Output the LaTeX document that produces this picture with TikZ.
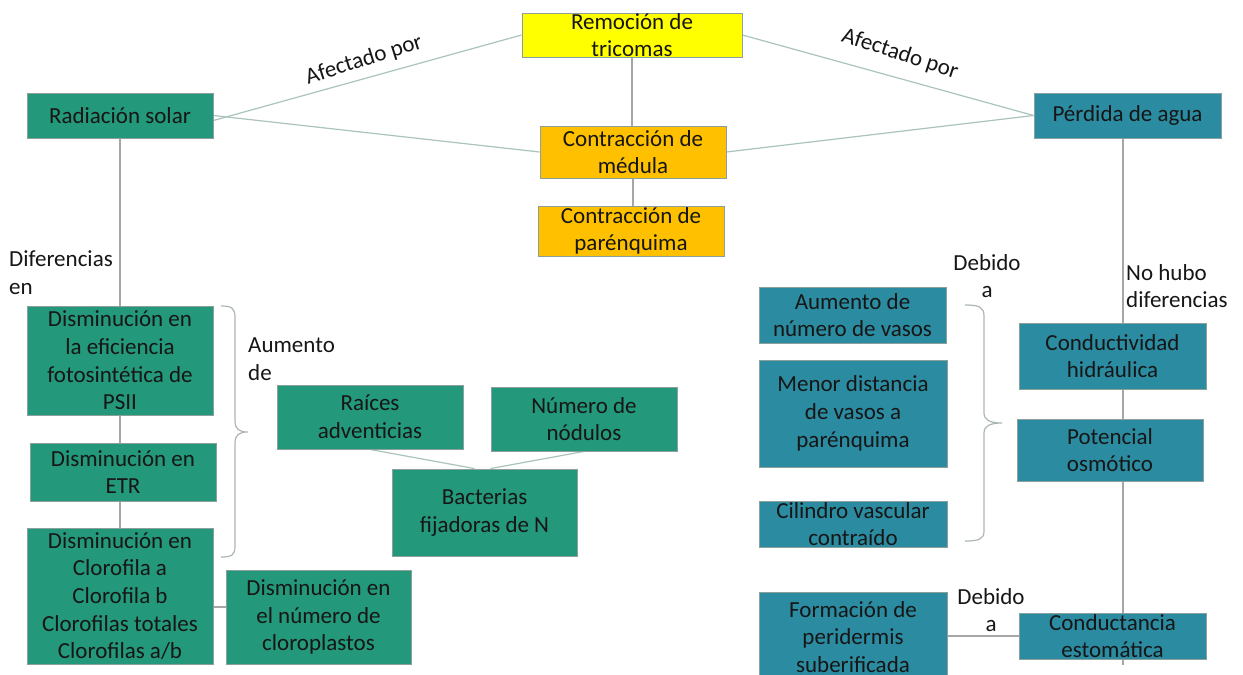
\documentclass[tikz,border=0pt]{standalone}
\usepackage{fontspec}
\setmainfont{Carlito}
\usetikzlibrary{backgrounds}
\definecolor{gfill}{RGB}{35,152,122}
\definecolor{tfill}{RGB}{43,139,161}
\definecolor{bord}{RGB}{140,160,155}
\definecolor{yfill}{RGB}{255,255,0}
\definecolor{ofill}{RGB}{255,192,0}
\definecolor{lnk}{RGB}{170,196,188}
\definecolor{vln}{RGB}{166,166,166}
\definecolor{brc}{RGB}{172,182,178}
\definecolor{txt}{RGB}{22,22,22}
\tikzset{
  box/.style={draw=bord, line width=0.9pt, inner sep=0pt, rectangle},
  gbox/.style={box, fill=gfill},
  tbox/.style={box, fill=tfill},
  ybox/.style={box, fill=yfill},
  obox/.style={box, fill=ofill},
  lab/.style={font=\fontsize{23}{27.7}\selectfont, align=center, text=txt, inner sep=0pt},
  plain/.style={font=\fontsize{23}{27.7}\selectfont, text=txt, inner sep=0pt},
  link/.style={draw=lnk, line width=1.2pt},
  vlink/.style={draw=vln, line width=1.2pt},
  bracepath/.style={draw=brc, line width=1.2pt}
}
\newcommand\bx[7]{\node[#1, minimum width={(#5)-(#3)}, minimum height={(#6)-(#4)}, label={[lab]center:{#7}}] (#2) at ({((#3)+(#5))/2},{((#4)+(#6))/2}) {};}
\begin{document}
\begin{tikzpicture}[x=1pt,y=-1pt]
\clip (0,0) rectangle (1243,675);
% boxes
\bx{ybox}{rem}{522}{13}{742}{57}{Remoción de\\tricomas}
\bx{gbox}{rad}{27}{93}{213}{138}{Radiación solar}
\bx{obox}{med}{540}{126}{726}{178}{Contracción de\\médula}
\bx{obox}{par}{538}{206}{724}{256}{Contracción de\\parénquima}
\bx{tbox}{per}{1034}{93}{1221}{138}{Pérdida de agua}
\bx{gbox}{psii}{27}{306}{213}{415}{Disminución en\\la eficiencia\\fotosintética de\\PSII}
\bx{gbox}{etr}{30}{443}{216}{501}{Disminución en\\ETR}
\bx{gbox}{clo}{27}{528}{213}{664}{Disminución en\\Clorofila a\\Clorofila b\\Clorofilas totales\\Clorofilas a/b}
\bx{gbox}{clp}{226}{570}{411}{664}{Disminución en\\el número de\\cloroplastos}
\bx{gbox}{rai}{277}{385}{463}{449}{Raíces\\adventicias}
\bx{gbox}{nod}{491}{387}{677}{451}{Número de\\nódulos}
\bx{gbox}{bac}{392}{469}{577}{556}{Bacterias\\fijadoras de N}
\bx{tbox}{vas}{759}{287}{946}{343}{Aumento de\\número de vasos}
\bx{tbox}{dis}{759}{360}{947}{467}{Menor distancia\\de vasos a\\parénquima}
\bx{tbox}{cil}{759}{501}{947}{547}{Cilindro vascular\\contraído}
\bx{tbox}{frm}{759}{592}{947}{682}{Formación de\\peridermis\\suberificada}
\bx{tbox}{cnd}{1019}{323}{1206}{389}{Conductividad\\hidráulica}
\bx{tbox}{pot}{1017}{419}{1203}{481}{Potencial\\osmótico}
\bx{tbox}{cst}{1019}{613}{1206}{659}{Conductancia\\estomática}
% free labels
\node[plain, rotate=17.5] (af1) at (364,60) {Afectado por};
\node[plain, rotate=-18] (af2) at (900,54) {Afectado por};
\node[plain, align=left, anchor=west] (dif) at (9,273) {Diferencias\\en};
\node[plain, align=left, anchor=west] (aum) at (248,359) {Aumento\\de};
\node[plain, align=center] (deb1) at (987,276) {Debido\\a};
\node[plain, align=left, anchor=west] (noh) at (1126,286) {No hubo\\diferencias};
\node[plain, align=center] (deb2) at (991,610) {Debido\\a};
\coordinate (vend) at (1123,665);
% connectors behind boxes
\begin{scope}[on background layer]
\fill[white] (0,0) rectangle (1243,675);
\draw[link] ([yshift=-5pt]rad.east) -- (rem.west);
\draw[link] (rad.east) -- (med.west);
\draw[link] (rem.east) -- (per.west);
\draw[link] (med.east) -- (per.west);
\draw[vlink] (rem.south) -- (rem.south |- med.north);
\draw[vlink] (med.south) -- (med.south |- par.north);
\draw[vlink] (rad.south) -- (psii.north);
\draw[vlink] (psii.south) -- (psii.south |- etr.north);
\draw[vlink] (psii.south |- etr.south) -- (psii.south |- clo.north);
\draw[vlink] ([yshift=-11pt]clo.east) -- ([yshift=-11pt]clo.east -| clp.west);
\draw[link] (rai.south) -- ([xshift=-10pt]bac.north);
\draw[link] (nod.south) -- ([xshift=6pt]bac.north);
\draw[vlink] ([xshift=-4.5pt]per.south) -- (vend);
\draw[vlink] (frm.east |- cst.west) -- (cst.west);
\end{scope}
% braces
\draw[bracepath] (221,306) .. controls (232,306) and (235,308) .. (235,318) -- (235,421) .. controls (235,429) and (239,432) .. (248,432) .. controls (239,432) and (235,435) .. (235,443) -- (235,546) .. controls (235,555) and (232,557) .. (221,557);
\draw[bracepath] (965,305) .. controls (979,305) and (984,307) .. (984,316) -- (984,413) .. controls (984,420) and (990,423) .. (1002,423) .. controls (990,423) and (984,426) .. (984,433) -- (984,531) .. controls (984,539) and (979,541) .. (965,541);
\end{tikzpicture}
\end{document}
